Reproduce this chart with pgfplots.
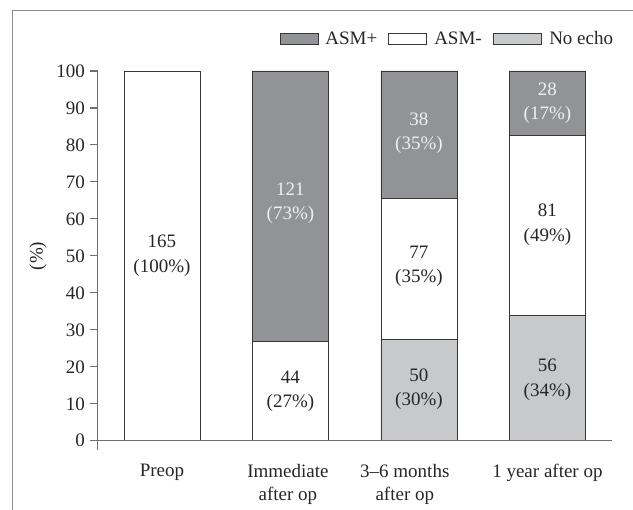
\documentclass[border=0pt]{standalone}
\usepackage{fontspec}
\setmainfont{Liberation Serif}
\usepackage{pgfplots}
\usepackage{pgfplotstable}
\pgfplotsset{compat=1.18}

\definecolor{asmplus}{RGB}{146,147,151}
\definecolor{noecho}{RGB}{200,201,203}
\definecolor{barline}{RGB}{55,55,57}
\definecolor{axgray}{RGB}{112,112,114}
\definecolor{framegray}{RGB}{140,140,142}

% share of patients (%) per echo finding, bottom to top: no echo, ASM-, ASM+
\pgfplotstableread{
pos noecho asmminus asmplus
0   0      100      0
1   0      26.8     73.2
2   27.5   38       34.5
3   34     48.5     17.5
}\asmdata

\newcommand{\chartfont}{\fontsize{19bp}{23.5bp}\selectfont}
\tikzset{
  lbl/.style={font=\fontsize{19bp}{24.5bp}\selectfont, align=center, text=black!85, inner sep=0pt},
  lblw/.style={lbl, text=white!94!black},
}
\pgfplotsset{
  legbox/.style={legend image code/.code={\draw[##1] (0bp,-5.5bp) rectangle (38bp,5.5bp);}},
  legboxwide/.style={legend image code/.code={\draw[##1] (0bp,-5.5bp) rectangle (48.6bp,5.5bp);}},
}

\begin{document}
\begin{tikzpicture}
\useasboundingbox (0bp,0bp) rectangle (633bp,510bp);
\draw[framegray, line width=1.3bp] (12.7bp,0bp) -- (12.7bp,499.3bp) -- (633bp,499.3bp);
\begin{axis}[
  at={(97.7bp,60bp)}, anchor=south west,
  scale only axis, width=514bp, height=379bp,
  xmin=-0.5, xmax=3.5, ymin=-2.5, ymax=100,
  ybar stacked, bar width=76bp,
  axis x line*=bottom, axis y line*=left,
  x axis line style={draw=none},
  y axis line style={axgray, line width=1.1bp},
  ytick={0,10,...,100},
  tick align=outside, major tick length=7.7bp,
  y tick style={axgray, line width=1.1bp},
  x tick style={draw=none},
  xtick={0,0.98,1.89,3},
  xticklabels={Preop, Immediate\\after op, 3--6 months\\after op, 1 year after op},
  xticklabel style={font=\chartfont, align=center, anchor=north, inner sep=0pt, yshift=-6bp, text=black!85},
  yticklabel style={font=\chartfont, inner xsep=5bp, text=black!85},
  /pgf/number format/assume math mode=true,
  ylabel={(\%)},
  ylabel style={font=\chartfont, at={(axis description cs:0,0.512)}, anchor=center, yshift=59.7bp, text=black!85},
  reverse legend, legend columns=3,
  legend style={draw=none, fill=none, at={(1,1)}, anchor=east, xshift=1.6bp, yshift=32.3bp,
    inner sep=0pt, font=\chartfont, text=black!85, nodes={inner sep=0pt},
    /tikz/every odd column/.append style={column sep=7bp},
    /tikz/every even column/.append style={column sep=11bp}},
]
\addplot[fill=noecho, draw=barline, line width=0.9bp, legboxwide]
  table[x=pos, y=noecho] {\asmdata};
\addlegendentry{No echo}
\addplot[fill=white, draw=barline, line width=0.9bp, legbox]
  table[x=pos, y=asmminus] {\asmdata};
\addlegendentry{ASM-}
\addplot[fill=asmplus, draw=barline, line width=0.9bp, legbox]
  table[x=pos, y=asmplus] {\asmdata};
\addlegendentry{ASM+}

\coordinate (x0) at (axis cs:-0.5,0);
\coordinate (x1) at (axis cs:3.5,0);
\coordinate (a) at (axis cs:0,50);
\coordinate (b) at (axis cs:1,64.3);
\coordinate (c) at (axis cs:1,13.4);
\coordinate (d) at (axis cs:2,83.2);
\coordinate (e) at (axis cs:2,47.2);
\coordinate (f) at (axis cs:2,14);
\coordinate (g) at (axis cs:3,91.3);
\coordinate (h) at (axis cs:3,58.4);
\coordinate (i) at (axis cs:3,16.5);
\end{axis}
\draw[axgray, line width=1.1bp] (x0) -- (x1);
\node[lbl]  at (a) {165\\(100\%)};
\node[lblw] at (b) {121\\(73\%)};
\node[lbl]  at (c) {44\\(27\%)};
\node[lblw] at (d) {38\\(35\%)};
\node[lbl]  at (e) {77\\(35\%)};
\node[lbl]  at (f) {50\\(30\%)};
\node[lblw] at (g) {28\\(17\%)};
\node[lbl]  at (h) {81\\(49\%)};
\node[lbl]  at (i) {56\\(34\%)};
\end{tikzpicture}
\end{document}
